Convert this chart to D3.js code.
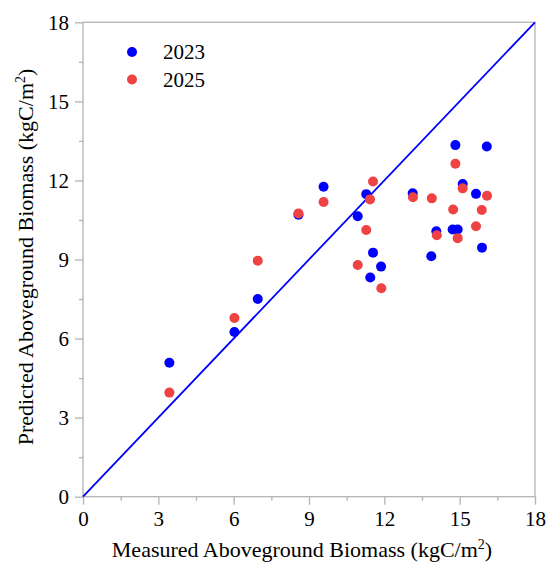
<!DOCTYPE html>
<html>
<head>
<meta charset="utf-8">
<script src="https://cdn.jsdelivr.net/npm/d3@7"></script>
<style>
  body { margin: 0; background: #fff; }
  text { font-family: "Liberation Serif", "Times New Roman", serif; fill: #000; }
</style>
</head>
<body>
<svg id="chart"></svg>
<script>
// measured vs predicted values
const measured2023 = [3.44, 6.03, 6.96, 8.58, 9.58, 10.94, 11.28, 11.44, 11.55, 11.87,
  13.13, 13.87, 14.07, 14.72, 14.83, 14.92, 15.12, 15.65, 15.89, 16.08]
const predicted2023 = [5.08, 6.25, 7.50, 10.70, 11.76, 10.64, 11.48, 8.32, 9.26, 8.73,
  11.51, 9.12, 10.07, 10.14, 13.34, 10.14, 11.86, 11.49, 9.45, 13.29]

const measured2025 = [3.44, 6.03, 6.96, 8.58, 9.58, 10.94, 11.28, 11.43, 11.55, 11.88,
  13.14, 13.89, 14.09, 14.74, 14.83, 14.92, 15.12, 15.65, 15.88, 16.09]
const predicted2025 = [3.95, 6.78, 8.95, 10.75, 11.18, 8.79, 10.12, 11.28, 11.96, 7.91,
  11.36, 11.32, 9.92, 10.90, 12.63, 9.81, 11.70, 10.26, 10.88, 11.42]

const series = [
  {name: '2023', color: '#0000ff', x: measured2023, y: predicted2023},
  {name: '2025', color: '#ef4242', x: measured2025, y: predicted2025}
]
const majorTicks = [0, 3, 6, 9, 12, 15, 18]
const minorTicks = [1.5, 4.5, 7.5, 10.5, 13.5, 16.5]
const axisMax = 18

const width = 550
const height = 570
const fontFamily = '"Liberation Serif", "Times New Roman", serif'
const svg = d3.select('#chart').attr('width', width).attr('height', height)

const x = d3.scaleLinear().domain([0, axisMax]).range([83, 535])
const y = d3.scaleLinear().domain([0, axisMax]).range([496.7, 22.3])
const axisColor = '#b4b4b4'

// frame box
svg.append('rect')
  .attr('x', x(0)).attr('y', y(axisMax))
  .attr('width', x(axisMax) - x(0)).attr('height', y(0) - y(axisMax))
  .attr('fill', 'none').attr('stroke', axisColor).attr('stroke-width', 1.3)

// x axis
svg.append('g')
  .attr('transform', `translate(0,${y(0)})`)
  .call(d3.axisBottom(x).tickValues(majorTicks).tickSize(8).tickPadding(6).tickFormat(d3.format('d')))
svg.append('g')
  .attr('transform', `translate(0,${y(0)})`)
  .call(d3.axisBottom(x).tickValues(minorTicks).tickSize(4).tickFormat(''))

// y axis
svg.append('g')
  .attr('transform', `translate(${x(0)},0)`)
  .call(d3.axisLeft(y).tickValues(majorTicks).tickSize(8).tickPadding(6).tickFormat(d3.format('d')))
svg.append('g')
  .attr('transform', `translate(${x(0)},0)`)
  .call(d3.axisLeft(y).tickValues(minorTicks).tickSize(4).tickFormat(''))

svg.selectAll('.domain').remove()
svg.selectAll('.tick line').attr('stroke', axisColor).attr('stroke-width', 1.3)
svg.selectAll('.tick text')
  .attr('font-family', fontFamily)
  .attr('font-size', 21)
  .style('font-family', fontFamily)
  .style('font-size', '21px')

// 1:1 line
svg.append('line')
  .attr('x1', x(0)).attr('y1', y(0))
  .attr('x2', x(axisMax)).attr('y2', y(axisMax))
  .attr('stroke', '#0000ff').attr('stroke-width', 1.8)

// points
series.forEach(s => {
  svg.append('g').selectAll('circle')
    .data(s.x.map((v, i) => [v, s.y[i]]))
    .enter()
    .append('circle')
    .attr('cx', d => x(d[0]))
    .attr('cy', d => y(d[1]))
    .attr('r', 5)
    .attr('fill', s.color)
})

// legend
const legend = svg.append('g').attr('transform', 'translate(132,52)')
series.forEach((s, i) => {
  legend.append('circle').attr('cx', 0).attr('cy', i * 27.5).attr('r', 5).attr('fill', s.color)
  legend.append('text').attr('x', 31).attr('y', i * 27.5 + 7)
    .style('font-size', '21px').text(s.name)
})

// axis titles
const xTitle = svg.append('text')
  .attr('x', 302).attr('y', 557)
  .attr('text-anchor', 'middle')
  .style('font-size', '22px')
xTitle.append('tspan').text('Measured Aboveground Biomass (kgC/m')
xTitle.append('tspan').attr('dy', -8).style('font-size', '14px').text('2')
xTitle.append('tspan').attr('dy', 8).text(')')

const yTitle = svg.append('text')
  .attr('transform', 'translate(33,257) rotate(-90)')
  .attr('text-anchor', 'middle')
  .style('font-size', '22px')
yTitle.append('tspan').text('Predicted Aboveground Biomass (kgC/m')
yTitle.append('tspan').attr('dy', -8).style('font-size', '14px').text('2')
yTitle.append('tspan').attr('dy', 8).text(')')
</script>
</body>
</html>
